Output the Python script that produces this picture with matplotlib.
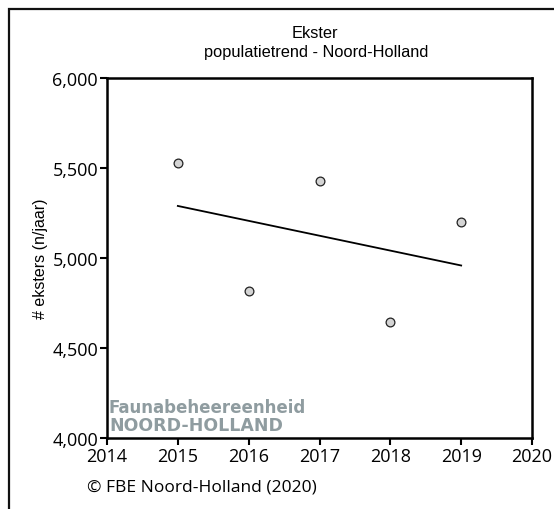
import numpy as np
import matplotlib.pyplot as plt
from matplotlib.ticker import FuncFormatter
from matplotlib.patches import Rectangle

# --- data ---
years = [2015, 2016, 2017, 2018, 2019]
counts = [5528, 4818, 5428, 4643, 5202]
title_lines = ["Ekster", "populatietrend - Noord-Holland"]
ylabel = "# eksters (n/jaar)"
credit = "\u00a9 FBE Noord-Holland (2020)"
logo_lines = ["Faunabeheereenheid", "NOORD-HOLLAND"]

# --- trend line (least squares) ---
slope, intercept = np.polyfit(years, counts, 1)
trend_x = np.array([years[0], years[-1]])
trend_y = slope * trend_x + intercept

W, H = 554, 510
fig = plt.figure(figsize=(W / 100, H / 100), dpi=100)
ax = fig.add_axes([107 / W, 1 - 439 / H, 425 / W, 360 / H])

# outer frame (runs off the right and bottom edges)
fig.patches.append(Rectangle((8.5 / W, -0.1), 1.2, (1 - 10 / H) + 0.1,
                             transform=fig.transFigure, fill=False,
                             edgecolor="#111111", linewidth=1.6, zorder=0))

ax.plot(trend_x, trend_y, color="black", linewidth=1.3, zorder=2)
ax.plot(years, counts, "o", markersize=6.3, markerfacecolor="#d4d4d4",
        markeredgecolor="#222222", markeredgewidth=0.9, zorder=3)

ax.set_xlim(2014, 2020)
ax.set_ylim(4000, 6000)
ax.set_xticks(range(2014, 2021))
ax.set_yticks([4000, 4500, 5000, 5500, 6000])
ax.yaxis.set_major_formatter(FuncFormatter(lambda v, p: f"{int(v):,}"))

for lab in ax.get_xticklabels() + ax.get_yticklabels():
    lab.set_fontfamily("Open Sans")
    lab.set_fontsize(13)
ax.tick_params(direction="out", length=5, width=1.5, pad=1.5)

for s in ax.spines.values():
    s.set_linewidth(1.8)

fig.text(40 / W, 1 - 259 / H, ylabel, rotation=90, ha="center", va="center",
         family="Liberation Sans", fontsize=11.5)

fig.text(315 / W, 1 - 38.3 / H, title_lines[0], ha="center", va="baseline",
         family="Liberation Sans", fontsize=11.8)
fig.text(316 / W, 1 - 56.7 / H, title_lines[1], ha="center", va="baseline",
         family="Liberation Sans", fontsize=11.8)

fig.text(87 / W, 1 - 488 / H, credit, ha="left", va="center",
         family="Open Sans", fontsize=12.5)

logo_color = "#8f9ca0"
fig.text(109 / W, 1 - 413 / H, logo_lines[0], ha="left", va="baseline",
         family="DejaVu Sans", fontweight="bold", fontsize=12,
         color=logo_color)
fig.text(109 / W, 1 - 431 / H, logo_lines[1], ha="left", va="baseline",
         family="DejaVu Sans", fontweight="bold", fontsize=12.5,
         color=logo_color)

fig.savefig("out.png", dpi=100)
